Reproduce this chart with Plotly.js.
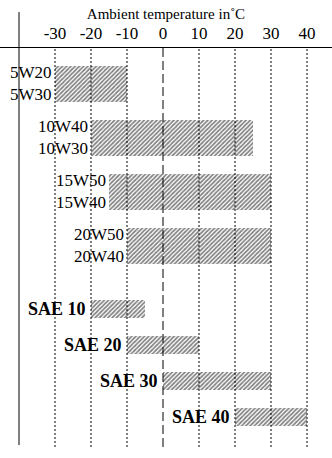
<!DOCTYPE html>
<html>
<head>
<meta charset="utf-8">
<script src="https://cdn.plot.ly/plotly-3.0.1.min.js"></script>
<style>html,body{margin:0;padding:0;background:#fff;}#chart{width:332px;height:458px;}</style>
</head>
<body>
<div id="chart"></div>
<script>
// Multigrade oils (two grades share one range)
const multiTop = ["5W20", "10W40", "15W50", "20W50"];
const multiBottom = ["5W30", "10W30", "15W40", "20W40"];
const multiLow = [-30, -20, -15, -10];
const multiHigh = [-10, 25, 30, 30];
// Single grade oils
const saeGrades = ["SAE 10", "SAE 20", "SAE 30", "SAE 40"];
const saeLow = [-20, -10, 0, 20];
const saeHigh = [-5, 10, 30, 40];
// Temperature ticks
const tickVals = [-30, -20, -10, 0, 10, 20, 30, 40];
const tickText = ["-30", "-20", "-10", "0", "10", "20", "30", "40"];

const serif = "Liberation Serif";
const multiPos = multiTop.map((_, i) => 2 + 3 * i);
const saePos = saeGrades.map((_, i) => 14.5 + 2 * i);

const pattern = {shape: "/", fgcolor: "#000", bgcolor: "rgba(0,0,0,0)", size: 3, solidity: 0.55, fillmode: "overlay"};

const traces = [
  {
    type: "bar", orientation: "h",
    y: multiPos, base: multiLow,
    x: multiHigh.map((h, i) => h - multiLow[i]),
    width: multiPos.map(() => 2),
    marker: {color: "rgba(0,0,0,0)", line: {width: 0}, pattern: pattern},
    hoverinfo: "skip", showlegend: false
  },
  {
    type: "bar", orientation: "h",
    y: saePos, base: saeLow,
    x: saeHigh.map((h, i) => h - saeLow[i]),
    width: saePos.map(() => 1),
    marker: {color: "rgba(0,0,0,0)", line: {width: 0}, pattern: pattern},
    hoverinfo: "skip", showlegend: false
  }
];

const annotations = [];
multiTop.forEach((t, i) => {
  annotations.push({
    x: multiLow[i], y: multiPos[i], xref: "x", yref: "y",
    text: t + "<br>" + multiBottom[i], showarrow: false,
    xanchor: "right", yanchor: "middle", align: "right", xshift: -1,
    font: {family: serif, size: 17, color: "#000"}
  });
});
saeGrades.forEach((t, i) => {
  annotations.push({
    x: saeLow[i], y: saePos[i], xref: "x", yref: "y",
    text: "<b>" + t + "</b>", showarrow: false,
    xanchor: "right", yanchor: "middle", xshift: -3,
    font: {family: serif, size: 18, color: "#000"}
  });
});

const shapes = tickVals.map(v => ({
  type: "line", xref: "x", yref: "paper", x0: v, x1: v, y0: 0, y1: 1,
  line: {color: "#000", width: 1, dash: v === 0 ? "9px,4px" : "2px,2px"},
  layer: "below"
}));
shapes.push({
  type: "line", xref: "x", yref: "paper", x0: -40, x1: -40, y0: 0.005, y1: 1.09,
  line: {color: "#000", width: 1}
});

const layout = {
  width: 332, height: 458,
  margin: {l: 0, r: 0, t: 48, b: 11, pad: 0},
  paper_bgcolor: "#fff", plot_bgcolor: "#fff",
  barmode: "overlay",
  xaxis: {
    side: "top", range: [-45.28, 46.94],
    tickvals: tickVals, ticktext: tickText, ticks: "",
    ticklabelstandoff: 1,
    showgrid: false, zeroline: false,
    showline: true, linecolor: "#000", linewidth: 1,
    tickfont: {family: serif, size: 17, color: "#000"},
    title: {text: "Ambient temperature in˚C", font: {family: serif, size: 15, color: "#000"}, standoff: 0}
  },
  yaxis: {range: [22.17, 0], visible: false, showgrid: false, zeroline: false},
  shapes: shapes,
  annotations: annotations
};

Plotly.newPlot("chart", traces, layout, {staticPlot: true, displayModeBar: false});
</script>
</body>
</html>
